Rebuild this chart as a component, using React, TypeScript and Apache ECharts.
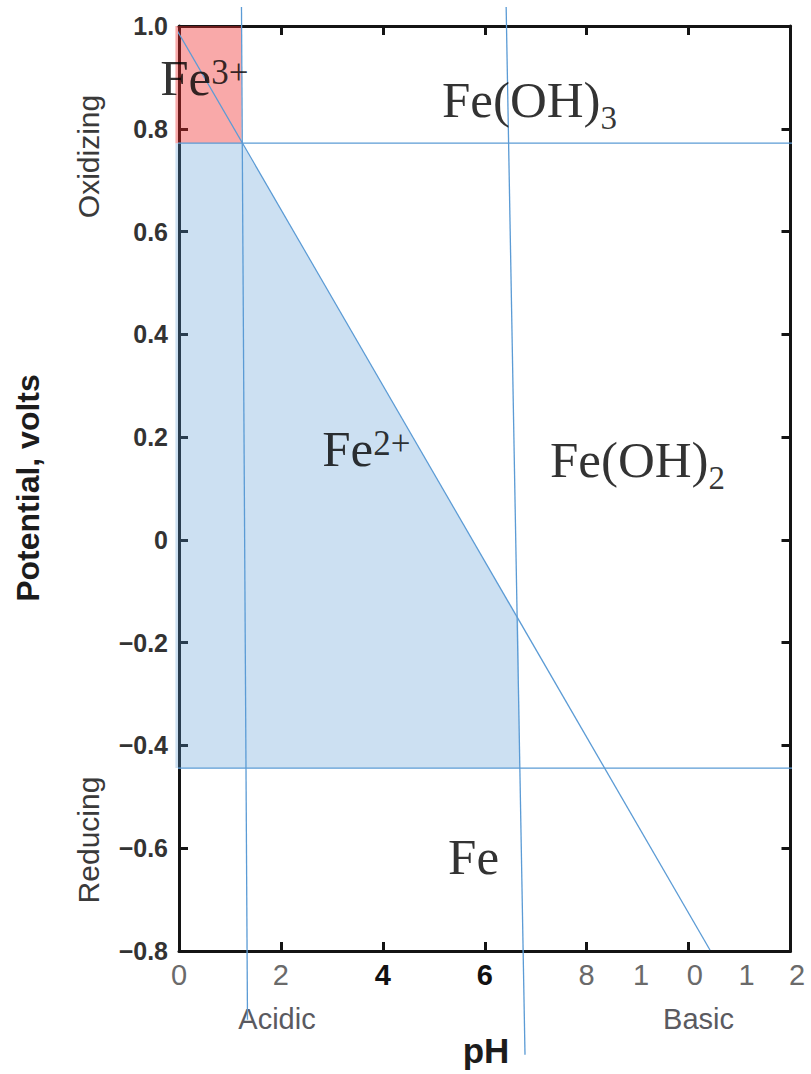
import React, { useEffect, useRef } from "react";
import * as echarts from "echarts";

// tick labels
const xTickValues = [0, 2, 4, 6, 8, 10, 12];
const xTickLabels = ["0", "2", "4", "6", "8", "10", "12"];
const boldXTickLabels = ["4", "6"];
const yTickLabels = ["−0.8", "−0.6", "−0.4", "−0.2", "0", "0.2", "0.4", "0.6", "0.8", "1.0"];

// boundary lines, points as [pH, potential]
const upperHorizontal = [[-1.2, 0.772], [12.4, 0.772]];
const lowerHorizontal = [[-1.2, -0.444], [12.4, -0.444]];
const fe3Vertical = [[1.226, 1.037], [1.344, -0.934]];
const hydroxideVertical = [[6.42, 1.037], [6.79, -1.002]];
const diagonal = [[-0.224, 1.0234], [10.42, -0.798]];

// shaded regions
const fe3Region = [[-0.07, 1.0], [1.23, 1.0], [1.23, 0.772], [-0.07, 0.772]];
const fe2Region = [[-0.07, 0.772], [1.23, 0.772], [6.658, -0.156], [6.692, -0.444], [-0.07, -0.444]];

// species labels
const speciesText = ["{m|Fe}{sup|3+}", "{m|Fe(OH)}{sub|3}", "{m|Fe}{sup|2+}", "{m|Fe(OH)}{sub|2}", "{m|Fe}"];
const speciesPos = [[-0.37, 0.898], [5.16, 0.856], [2.81, 0.176], [7.28, 0.155], [5.28, -0.618]];

const LINE_COLOR = "#5B9BD5";
const AXIS_COLOR = "#141414";

export default function App() {
  const ref = useRef<HTMLDivElement>(null);
  useEffect(() => {
    if (!ref.current) return;
    const chart = echarts.init(ref.current, null, { renderer: "svg" });

    const lineSeries = (data: number[][]) => ({
      type: "line",
      data,
      symbol: "none",
      showSymbol: false,
      clip: false,
      silent: true,
      z: 4,
      lineStyle: { color: LINE_COLOR, width: 1.3 },
    });

    const regionSeries = (pts: number[][], fill: string) => ({
      type: "custom",
      coordinateSystem: "cartesian2d",
      data: [[0, 0]],
      clip: false,
      silent: true,
      z: 2,
      renderItem: (_p: any, api: any) => ({
        type: "polygon",
        shape: { points: pts.map((p) => api.coord(p)) },
        style: { fill },
      }),
    });

    const axisLine = { show: true, onZero: false, lineStyle: { color: AXIS_COLOR, width: 3 } };
    const axisTick = { show: true, inside: true, length: 9, lineStyle: { color: AXIS_COLOR, width: 3 } };

    const xFormatter = (v: number) => {
      const i = xTickValues.indexOf(Math.round(v));
      const s = i >= 0 ? xTickLabels[i] : "";
      if (s === "10") return `{g|1}{sp10| }{g|0}{pad10| }`;
      if (s === "12") return `{g|1}{sp12| }{g|2}{pad12| }`;
      if (boldXTickLabels.indexOf(s) >= 0) return `{b|${s}}`;
      return `{g|${s}}`;
    };
    const yFormatter = (v: number) => {
      const i = Math.round((v + 0.8) / 0.2);
      return yTickLabels[i] ?? "";
    };

    const sans = "'Liberation Sans', Arial, sans-serif";
    const serif = "'Liberation Serif', 'Times New Roman', serif";

    chart.setOption({
      animation: false,
      backgroundColor: "#ffffff",
      grid: { left: 179, right: 20.5, top: 26, bottom: 123, containLabel: false, outerBoundsMode: "none" },
      xAxis: [
        {
          type: "value",
          min: 0,
          max: 12,
          interval: 2,
          position: "bottom",
          axisLine,
          axisTick,
          splitLine: { show: false },
          axisLabel: {
            margin: 9,
            formatter: xFormatter,
            rich: {
              g: { fontFamily: sans, fontSize: 29, color: "#6a6a6a" },
              b: { fontFamily: sans, fontSize: 29, color: "#111111", fontWeight: "bold" },
              sp10: { width: 37.7, fontSize: 29 },
              pad10: { width: 41.3, fontSize: 29 },
              sp12: { width: 34.4, fontSize: 29 },
              pad12: { width: 37.6, fontSize: 29 },
            },
          },
        },
        {
          type: "value",
          min: 0,
          max: 12,
          interval: 2,
          position: "top",
          axisLine,
          axisTick,
          splitLine: { show: false },
          axisLabel: { show: false },
        },
      ],
      yAxis: [
        {
          type: "value",
          min: -0.8,
          max: 1.0,
          interval: 0.2,
          position: "left",
          axisLine,
          axisTick,
          splitLine: { show: false },
          axisLabel: {
            margin: 11,
            formatter: yFormatter,
            fontFamily: sans,
            fontSize: 25,
            fontWeight: "bold",
            color: "#333333",
          },
        },
        {
          type: "value",
          min: -0.8,
          max: 1.0,
          interval: 0.2,
          position: "right",
          axisLine,
          axisTick,
          splitLine: { show: false },
          axisLabel: { show: false },
        },
      ],
      series: [
        regionSeries(fe3Region, "rgba(240,40,40,0.4)"),
        regionSeries(fe2Region, "rgba(91,155,213,0.31)"),
        lineSeries(upperHorizontal),
        lineSeries(lowerHorizontal),
        lineSeries(fe3Vertical),
        lineSeries(hydroxideVertical),
        lineSeries(diagonal),
        {
          type: "scatter",
          clip: false,
          silent: true,
          z: 5,
          symbolSize: 1,
          itemStyle: { color: "rgba(0,0,0,0)" },
          data: speciesPos.map((p, i) => ({ value: p, label: { formatter: speciesText[i] } })),
          label: {
            show: true,
            position: "inside",
            align: "left",
            verticalAlign: "middle",
            rich: {
              m: { fontFamily: serif, fontSize: 51, lineHeight: 51, color: "#000", verticalAlign: "middle" },
              sup: { fontFamily: serif, fontSize: 35, lineHeight: 35, color: "#000", verticalAlign: "middle", padding: [0, 0, 11, 0] },
              sub: { fontFamily: serif, fontSize: 33, lineHeight: 33, color: "#000", verticalAlign: "middle", padding: [36, 0, 0, 0] },
            },
          },
        },
      ],
      graphic: [
        {
          type: "text",
          x: 27.5,
          y: 488,
          rotation: Math.PI / 2,
          style: { text: "Potential, volts", fontFamily: sans, fontSize: 32, fontWeight: "bold", fill: "#1c1c1c", align: "center", verticalAlign: "middle" },
        },
        {
          type: "text",
          x: 88.5,
          y: 156.5,
          rotation: Math.PI / 2,
          style: { text: "Oxidizing", fontFamily: sans, fontSize: 30, fill: "#3a3a3a", align: "center", verticalAlign: "middle" },
        },
        {
          type: "text",
          x: 88.5,
          y: 840,
          rotation: Math.PI / 2,
          style: { text: "Reducing", fontFamily: sans, fontSize: 30, fill: "#3a3a3a", align: "center", verticalAlign: "middle" },
        },
        {
          type: "text",
          x: 277,
          y: 1019,
          style: { text: "Acidic", fontFamily: sans, fontSize: 29, fill: "#5a5a60", align: "center", verticalAlign: "middle" },
        },
        {
          type: "text",
          x: 698.5,
          y: 1019,
          style: { text: "Basic", fontFamily: sans, fontSize: 29, fill: "#5a5a60", align: "center", verticalAlign: "middle" },
        },
        {
          type: "text",
          x: 486,
          y: 1050,
          style: { text: "pH", fontFamily: sans, fontSize: 35, fontWeight: "bold", fill: "#1c1c1c", align: "center", verticalAlign: "middle" },
        },
      ],
    });

    return () => chart.dispose();
  }, []);

  return (
    <div
      ref={ref}
      style={{ position: "fixed", left: 0, top: 0, width: 811, height: 1074, background: "#fff" }}
    />
  );
}
